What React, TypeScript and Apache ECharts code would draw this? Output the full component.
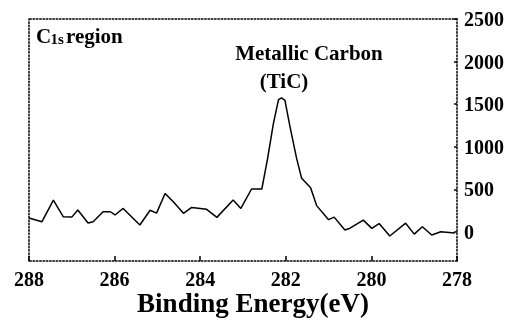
import React, { useEffect, useRef } from "react";
import * as echarts from "echarts";

const energies = [
  288.0, 287.7, 287.43, 287.32, 287.2, 287.0, 286.86, 286.62, 286.5, 286.27,
  286.1, 285.99, 285.8, 285.41, 285.17, 285.02, 284.82, 284.63, 284.39, 284.2,
  283.85, 283.61, 283.23, 283.05, 282.8, 282.56, 282.43, 282.29, 282.17, 282.1,
  282.02, 281.9, 281.75, 281.63, 281.42, 281.28, 281.0, 280.87, 280.62, 280.5,
  280.19, 279.99, 279.82, 279.57, 279.2, 279.0, 278.81, 278.59, 278.38, 278.05,
];
const intensities = [
  165, 120, 375, 280, 180, 175, 258, 105, 120, 238,
  238, 200, 277, 82, 255, 222, 453, 355, 219, 289,
  266, 172, 375, 277, 505, 505, 850, 1272, 1553, 1575,
  1545, 1232, 870, 630, 520, 310, 145, 175, 23, 45,
  140, 43, 100, -47, 104, -25, 62, -35, 4, -10,
];
const yTickValues = [0, 500, 1000, 1500, 2000, 2500];

const FONT = "Liberation Serif";

export default function App() {
  const ref = useRef<HTMLDivElement>(null);
  useEffect(() => {
    if (!ref.current) return;
    const chart = echarts.init(ref.current, undefined, { renderer: "svg" });
    const dotted = { color: "#000", width: 1.5, type: [1.5, 1.8] as any };
    const txt = (text: string, x: number, y: number, size: number, align: string) => ({
      type: "text",
      x,
      y,
      style: {
        text,
        fontFamily: FONT,
        fontWeight: "bold",
        fontSize: size,
        fill: "#000",
        align,
        verticalAlign: "middle",
      },
    });
    chart.setOption({
      animation: false,
      grid: { left: 29, right: 54, top: 19, bottom: 61 },
      xAxis: [
        {
          type: "value",
          min: 278,
          max: 288,
          interval: 2,
          inverse: true,
          position: "bottom",
          axisLine: { show: true, onZero: false, lineStyle: dotted },
          axisTick: { show: true, inside: true, length: 5, lineStyle: { color: "#000", width: 1.5 } },
          axisLabel: {
            show: true,
            margin: 8,
            color: "#000",
            fontFamily: FONT,
            fontWeight: "bold",
            fontSize: 20,
          },
          splitLine: { show: false },
        },
        {
          type: "value",
          min: 278,
          max: 288,
          inverse: true,
          position: "top",
          axisLine: { show: true, onZero: false, lineStyle: dotted },
          axisTick: { show: false },
          axisLabel: { show: false },
          splitLine: { show: false },
        },
      ],
      yAxis: [
        {
          type: "value",
          min: -340,
          max: 2500,
          position: "right",
          axisLine: { show: true, onZero: false, lineStyle: dotted },
          axisTick: {
            show: true,
            inside: true,
            length: 3,
            lineStyle: { color: "#000", width: 1.5 },
            customValues: yTickValues,
          },
          axisLabel: {
            show: true,
            margin: 7,
            color: "#000",
            fontFamily: FONT,
            fontWeight: "bold",
            fontSize: 20,
            customValues: yTickValues,
            formatter: (v: number) => String(v),
          },
          splitLine: { show: false },
        },
        {
          type: "value",
          min: -340,
          max: 2500,
          position: "left",
          axisLine: { show: true, onZero: false, lineStyle: dotted },
          axisTick: { show: false },
          axisLabel: { show: false },
          splitLine: { show: false },
        },
      ],
      series: [
        {
          type: "line",
          xAxisIndex: 0,
          yAxisIndex: 0,
          data: energies.map((e, i) => [e, intensities[i]]),
          showSymbol: false,
          symbol: "none",
          lineStyle: { color: "#000", width: 1.5 },
        },
      ],
      graphic: [
        txt("C", 36, 36, 21, "left"),
        txt("1s", 50.5, 39, 15, "left"),
        txt("region", 66, 36, 21, "left"),
        txt("Metallic Carbon", 309, 53, 21, "center"),
        txt("(TiC)", 284, 81, 21, "center"),
        txt("Binding Energy(eV)", 253, 303, 27, "center"),
      ],
    });
    return () => chart.dispose();
  }, []);
  return <div ref={ref} style={{ position: "fixed", left: 0, top: 0, width: 511, height: 322 }} />;
}
